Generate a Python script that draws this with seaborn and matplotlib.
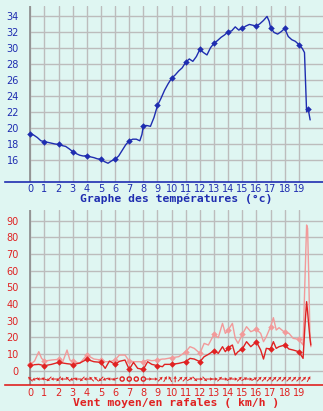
import matplotlib
matplotlib.use("Agg")
import matplotlib.pyplot as plt
import numpy as np
import pandas as pd
import seaborn as sns

# temperature readings (hour of day, degC)
temp_hours = [0, 0.25, 0.5, 0.75, 1, 1.25, 1.5, 1.75, 2, 2.25, 2.5, 2.75, 3, 3.25, 3.5, 3.75,
              4, 4.25, 4.5, 4.75, 5, 5.25, 5.5, 5.75, 6, 6.25, 6.5, 6.75, 7, 7.25, 7.5, 7.75,
              7.9, 8, 8.25, 8.5, 8.75, 9, 9.25, 9.5, 9.75, 10, 10.25, 10.5, 10.75, 11, 11.25,
              11.5, 11.75, 12, 12.25, 12.5, 12.75, 13, 13.25, 13.5, 13.75, 14, 14.25, 14.5,
              14.75, 15, 15.25, 15.5, 15.75, 16, 16.25, 16.5, 16.75, 16.9, 17, 17.25, 17.5,
              17.75, 18, 18.25, 18.5, 18.75, 19, 19.25, 19.4, 19.55, 19.65, 19.7, 19.8]
temp_values = [19.3, 19.1, 18.8, 18.4, 18.3, 18.2, 18.1, 18.0, 17.95, 17.8, 17.7, 17.4, 17.05,
               16.8, 16.6, 16.5, 16.55, 16.4, 16.3, 16.15, 16.1, 15.8, 15.6, 15.9, 16.1, 16.5,
               17.2, 17.9, 18.4, 18.6, 18.6, 18.4, 19.2, 20.3, 20.3, 20.2, 21.3, 22.8, 23.7,
               24.7, 25.5, 26.2, 26.6, 27.1, 27.5, 28.2, 28.6, 28.3, 28.9, 29.8, 29.4, 29.1,
               30.0, 30.55, 30.9, 31.3, 31.6, 32.0, 32.1, 32.6, 32.2, 32.4, 32.7, 32.9, 32.8,
               32.7, 33.0, 33.4, 33.9, 33.3, 32.5, 31.9, 31.7, 32.0, 32.4, 31.4, 31.0, 30.8,
               30.4, 29.9, 29.4, 22.0, 22.4, 22.0, 21.0]
temp_marker_hours = list(range(20)) + [19.65]
temp_ticks = [16, 18, 20, 22, 24, 26, 28, 30, 32, 34]

# wind readings (hour of day, km/h)
wind_hours = [0, 0.3, 0.6, 0.8, 1, 1.5, 2, 2.3, 2.6, 2.8, 3, 3.5, 4, 4.5, 5, 5.3, 5.6, 6, 6.3,
              6.7, 7, 7.3, 7.6, 8, 8.3, 8.6, 9, 9.35, 9.5, 10, 10.5, 11, 11.3, 11.6, 12, 12.3,
              12.6, 13, 13.3, 13.6, 13.8, 14, 14.3, 14.5, 14.7, 15, 15.3, 15.6, 16, 16.3, 16.5,
              16.7, 17, 17.2, 17.4, 17.6, 18, 18.3, 18.6, 19, 19.3, 19.45, 19.55, 19.62, 19.7,
              19.78, 19.85]
wind_gust = [3.8, 5.8, 11.4, 7.4, 5.8, 6.4, 6.8, 5.4, 12.4, 6.4, 5.8, 4.4, 9.4, 7.0, 6.4, 5.4,
             5.4, 6.4, 9.4, 9.4, 5.8, 5.4, 5.4, 5.4, 6.5, 6.0, 6.4, 7.0, 7.0, 7.8, 8.4, 11.4,
             14.4, 13.4, 10.4, 16.4, 15.4, 21.8, 19.8, 28.4, 22.4, 24.4, 28.4, 19.4, 16.4, 21.8,
             26.4, 23.4, 24.8, 22.4, 17.4, 20.4, 26.4, 31.8, 24.4, 25.8, 23.0, 22.4, 19.4, 18.8,
             15.4, 59.4, 87.4, 85.4, 57.4, 23.4, 14.4]
wind_mean = [3.4, 3.6, 3.8, 3.4, 3.0, 3.8, 5.0, 4.6, 4.2, 4.0, 3.6, 4.6, 6.8, 5.4, 5.0, 1.4,
             5.8, 3.8, 5.6, 6.4, 0.8, 5.0, 1.4, 0.8, 5.4, 3.8, 3.0, 2.4, 3.8, 3.8, 4.4, 5.4,
             7.4, 7.0, 5.4, 8.4, 9.8, 12.0, 10.4, 14.4, 11.4, 13.8, 15.4, 9.4, 11.4, 13.0,
             17.4, 14.4, 17.4, 12.4, 7.0, 13.4, 13.0, 17.4, 13.4, 14.4, 15.4, 13.0, 12.4, 11.4,
             7.4, 29.4, 41.4, 35.4, 27.4, 20.0, 15.4]
wind_marker_hours = list(range(20))
wind_ticks = [0, 10, 20, 30, 40, 50, 60, 70, 80, 90]

# wind direction (degrees, 0 = towards east), None = calm
dir_hours = [0, 0.33, 0.67, 1, 1.33, 1.67, 2, 2.33, 2.67, 3, 3.33, 3.67, 4, 4.33, 4.67, 5,
             5.33, 5.67, 6, 6.5, 7, 7.5, 8, 8.4, 8.8, 9.2, 9.55, 9.9, 10.25, 10.6, 10.95,
             11.3, 11.65, 12, 12.35, 12.7, 13.05, 13.4, 13.75, 14.1, 14.45, 14.8, 15.15,
             15.5, 15.85, 16.2, 16.55, 16.9, 17.25, 17.6, 17.95, 18.3, 18.65, 19, 19.35,
             19.7]
dir_angles = [135, 200, 180, 160, 225, 180, 225, 180, 135, 200, 180, 225, 180, 135, 135, 225,
              200, 180, 200, None, None, None, None, 0, 0, 45, 60, 120, 90, 45, 45, 30, 315,
              0, 315, 0, 0, 45, 0, 30, 0, 45, 30, 0, 30, 45, 45, 45, 45, 45, 45, 45, 45, 45,
              45, 60]

hour_ticks = list(range(20))

BG = "#dff6f2"
GRID = "#bcbcbc"
BLUE = "#1f2db0"
RED = "#e02222"
PINK = "#f29a9a"

sns.set_style("white", {"axes.facecolor": BG, "figure.facecolor": BG})
plt.rcParams["font.family"] = ["DejaVu Sans"]

W, H = 323, 411
xmin, xmax = -1.79, 20.71

fig = plt.figure(figsize=(W / 100, H / 100), dpi=100)
ax_t = fig.add_axes([5 / W, 1 - 181.7 / H, 318 / W, (181.7 - 6) / H])
ax_w = fig.add_axes([5 / W, 1 - 385.3 / H, 318 / W, (385.3 - 210) / H])


def frame(ax, ticks, ylim, color):
    ax.set_xlim(xmin, xmax)
    ax.set_ylim(*ylim)
    ax.set_xticks(hour_ticks)
    ax.set_yticks(ticks)
    ax.set_axisbelow(True)
    ax.grid(axis="x", color=GRID, lw=1)
    ax.hlines(ticks, 0, xmax, color=GRID, lw=1, zorder=0.5)
    ax.axvline(0, color="#8c8c8c", lw=1.2, zorder=1)
    for s in ["top", "right", "left"]:
        ax.spines[s].set_visible(False)
    ax.spines["bottom"].set_color(color)
    ax.spines["bottom"].set_linewidth(1.2)
    ax.tick_params(axis="y", length=0, pad=-10, labelcolor=color, labelsize=7)
    ax.tick_params(axis="x", length=0, pad=2, labelcolor=color, labelsize=7)


frame(ax_t, temp_ticks, (13.3, 35.2), BLUE)
frame(ax_w, wind_ticks, (-8.76, 96.4), RED)

# temperature
temp = pd.DataFrame({"hour": temp_hours, "temp": temp_values})
sns.lineplot(data=temp, x="hour", y="temp", ax=ax_t, color=BLUE, lw=1, zorder=3)
tm = temp[temp.hour.isin(temp_marker_hours)]
sns.scatterplot(data=tm, x="hour", y="temp", ax=ax_t, marker="D", s=11, color=BLUE,
                linewidth=0, zorder=4)

# wind
wind = pd.DataFrame({"hour": wind_hours, "gust": wind_gust, "mean": wind_mean})
sns.lineplot(data=wind, x="hour", y="gust", ax=ax_w, color=PINK, lw=1, zorder=3)
sns.lineplot(data=wind, x="hour", y="mean", ax=ax_w, color=RED, lw=1, zorder=3)
wm = wind[wind.hour.isin(wind_marker_hours)]
sns.scatterplot(data=wm, x="hour", y="gust", ax=ax_w, marker="D", s=11, color=PINK,
                linewidth=0, zorder=4)
sns.scatterplot(data=wm, x="hour", y="mean", ax=ax_w, marker="D", s=11, color=RED,
                linewidth=0, zorder=4)

# direction arrows
dirs = pd.DataFrame({"hour": dir_hours, "angle": dir_angles})
moving = dirs.dropna()
rad = np.deg2rad(moving.angle.astype(float))
ax_w.quiver(moving.hour, np.full(len(moving), -5.0), 6.5 * np.cos(rad), 6.5 * np.sin(rad),
            units="dots", scale_units="dots", scale=1, angles="uv", pivot="middle",
            width=1.0, headwidth=3.5, headlength=3.2, headaxislength=2.8, color=RED,
            zorder=4)
calm = dirs[dirs.angle.isna()]
ax_w.scatter(calm.hour, np.full(len(calm), -5.0), s=9, facecolors="none",
             edgecolors=RED, linewidths=1.0, zorder=4)

for ax in (ax_t, ax_w):
    ax.set_ylabel("")

ax_t.set_xlabel("Graphe des températures (°c)", fontfamily="DejaVu Sans Mono",
                fontweight="bold", fontsize=8.2, color=BLUE)
ax_t.xaxis.set_label_coords(0.539, -0.068)
ax_w.set_xlabel("Vent moyen/en rafales ( km/h )", fontfamily="DejaVu Sans Mono",
                fontweight="bold", fontsize=8.2, color=RED)
ax_w.xaxis.set_label_coords(0.539, -0.07)

fig.savefig("out.png", dpi=100, facecolor=BG)
